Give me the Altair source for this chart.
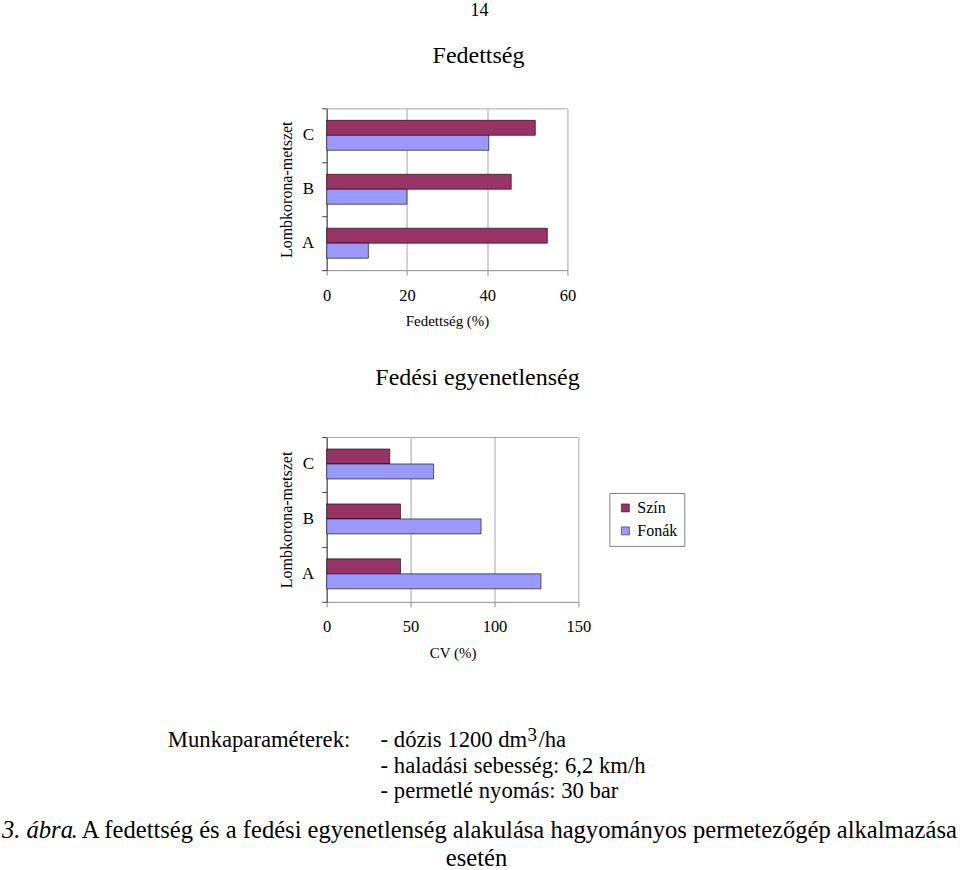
import altair as alt
import pandas as pd

FONT = "Liberation Serif"

# ---- texts ----
page_number = "14"
title_top = "Fedettség"
title_mid = "Fedési egyenetlenség"
y_title = "Lombkorona-metszet"
x_title_top = "Fedettség (%)"
x_title_mid = "CV (%)"
param_label = "Munkaparaméterek:"
param_dose = "- dózis 1200 dm"
param_sup = "3"
param_unit = "/ha"
param_speed = "- haladási sebesség: 6,2 km/h"
param_pressure = "- permetlé nyomás: 30 bar"
caption_italic = "3. ábra"
caption_line1 = ". A fedettség és a fedési egyenetlenség alakulása hagyományos permetezőgép alkalmazása"
caption_line2 = "esetén"

# ---- data ----
categories = ["A", "B", "C"]
category_order = ["C", "B", "A"]
series = ["Szín", "Fonák"]
colors = ["#993366", "#9999FF"]
fedettseg_szin = [55, 46, 52]
fedettseg_fonak = [10.4, 20, 40.4]
cv_szin = [44, 44, 37.6]
cv_fonak = [127.7, 92, 63.7]
fed_ticks = [0, 20, 40, 60]
cv_ticks = [0, 50, 100, 150]


def long_table(szin, fonak):
    rows = []
    for c, s, f in zip(categories, szin, fonak):
        rows.append({"cat": c, "series": series[0], "value": s})
        rows.append({"cat": c, "series": series[1], "value": f})
    return pd.DataFrame(rows)


def text(t, x, y, size, align="center", style="normal"):
    return alt.Chart(alt.Data(values=[{"t": t}])).mark_text(
        align=align, baseline="alphabetic", font=FONT, fontSize=size,
        fontStyle=style, color="black"
    ).encode(x=alt.value(x), y=alt.value(y), text="t:N")


def bar_chart(df, ticks, x_range, height, x_title, legend):
    x_scale = alt.Scale(domain=[ticks[0], ticks[-1]], range=x_range, nice=False)
    bars = alt.Chart(df).mark_bar(stroke="black", strokeWidth=0.6).encode(
        x=alt.X("value:Q", scale=x_scale, axis=alt.Axis(
            values=ticks, title=x_title, grid=True, gridColor="#a6a6a6",
            domainColor="#8c8c8c", tickColor="#8c8c8c", tickSize=5,
            labelFlush=False, labelPadding=12, labelFontSize=16.5,
            labelFont=FONT, labelColor="black", titleFont=FONT,
            titleFontSize=15, titleFontWeight="normal", titleColor="black",
            titlePadding=10)),
        y=alt.Y("cat:N", sort=category_order,
                scale=alt.Scale(paddingInner=0, paddingOuter=0),
                axis=alt.Axis(
                    title=y_title, offset=-x_range[0], bandPosition=1,
                    tickExtra=True, grid=False, domainColor="#404040",
                    tickColor="#404040", tickSize=5, labelPadding=8,
                    labelFontSize=17, labelFont=FONT, labelColor="black",
                    labelAngle=0, titleFont=FONT, titleFontSize=16,
                    titleFontWeight="normal", titleColor="black",
                    titlePadding=7)),
        yOffset=alt.YOffset("series:N", sort=series,
                            scale=alt.Scale(paddingOuter=0.8, paddingInner=0)),
        color=alt.Color("series:N", sort=series,
                        scale=alt.Scale(domain=series, range=colors),
                        legend=legend),
    )
    border = alt.Chart(alt.Data(values=[{"a": 0}])).mark_rule(
        color="#a6a6a6", strokeWidth=1
    ).encode(x=alt.datum(ticks[0]), x2=alt.datum(ticks[-1]), y=alt.value(0.5))
    return alt.layer(bars, border).properties(width=960, height=height)


legend2 = alt.Legend(
    orient="none", legendX=610, legendY=56, title=None,
    strokeColor="#808080", fillColor="white", padding=7,
    symbolType="square", symbolSize=64, symbolStrokeColor="black",
    symbolStrokeWidth=0.5, labelFont=FONT, labelFontSize=16,
    labelColor="black", rowPadding=7, labelOffset=4, symbolOffset=1,
)

header = alt.layer(
    text(page_number, 480, 16, 18),
    text(title_top, 479, 63, 24),
).properties(width=960, height=108)

chart1 = bar_chart(long_table(fedettseg_szin, fedettseg_fonak), fed_ticks,
                   [327, 568], 162, x_title_top, None)

middle = alt.layer(
    text(title_mid, 478, 115, 24),
).properties(width=960, height=167)

chart2 = bar_chart(long_table(cv_szin, cv_fonak), cv_ticks,
                   [327, 579], 165, x_title_mid, legend2)

footer = alt.layer(
    text(param_label, 168, 145, 22.7, align="left"),
    text(param_dose, 381, 145, 22.7, align="left"),
    text(param_sup, 528, 139, 19, align="left"),
    text(param_unit, 539, 145, 22.7, align="left"),
    text(param_speed, 381, 171, 22.7, align="left"),
    text(param_pressure, 381, 196, 22.7, align="left"),
    text(caption_italic, 2, 236, 24.6, align="left", style="italic"),
    text(caption_line1, 71, 236, 24.6, align="left"),
    text(caption_line2, 477, 264, 24.6),
).properties(width=960, height=268)

chart = alt.vconcat(
    header, chart1, middle, chart2, footer, spacing=0, bounds="flush"
).resolve_scale(
    color="independent", x="independent", y="independent"
).properties(
    padding={"left": 0, "top": 0, "right": 0, "bottom": 0}
).configure(font=FONT).configure_view(stroke=None)

chart.save("out.html", embed_options={"renderer": "svg", "actions": False})
